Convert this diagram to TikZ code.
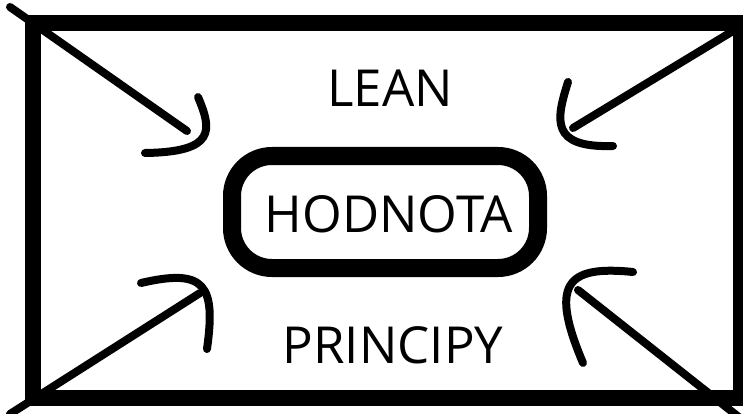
\documentclass[tikz,border=0pt]{standalone}
\usepackage{fontspec}
\setmainfont{Open Sans}
\begin{document}
\begin{tikzpicture}[x=1pt,y=-1pt,
  frame/.style={line width=16pt},
  valuebox/.style={draw,line width=18pt,rounded corners=40pt,minimum width=306pt,minimum height=112pt,inner sep=0pt},
  diag/.style={line width=8pt,line cap=round},
  hook/.style={line width=8pt,line cap=round},
  lbl/.style={font=\fontsize{51}{51}\selectfont,inner sep=0pt,anchor=base}]
\useasboundingbox (0,0) rectangle (743,414);
\draw[frame] (33,23) rectangle (741,398);
\node[valuebox] (box) at (385,212) {};
\node[lbl] (hod) at (389,232) {HODNOTA};
\node[lbl] (lean) at (390,107) {LEAN};
\node[lbl] (pri) at (393,363) {PRINCIPY};
% corner coordinates
\coordinate (ctl) at (10,7);
\coordinate (ctr) at (733,31);
\coordinate (cbl) at (10,414);
\coordinate (cbr) at (740,418);
% tips
\coordinate (ttl) at (187,131);
\coordinate (ttr) at (573,128);
\coordinate (tbl) at (200,293);
\coordinate (tbr) at (578,290);
\draw[diag] (ctl) -- (ttl);
\draw[diag] (ctr) -- (ttr);
\draw[diag] (cbl) -- (tbl);
\draw[diag] (cbr) -- (tbr);
% hooks
\draw[hook] (198,97) .. controls (212,130) and (216,152) .. (145,153);
\draw[hook] (568,82) .. controls (556,120) and (550,148) .. (613,146);
\draw[hook] (141,283) .. controls (205,268) and (216,285) .. (207,349);
\draw[hook] (633,272) .. controls (565,265) and (550,285) .. (583,363);
\end{tikzpicture}
\end{document}
